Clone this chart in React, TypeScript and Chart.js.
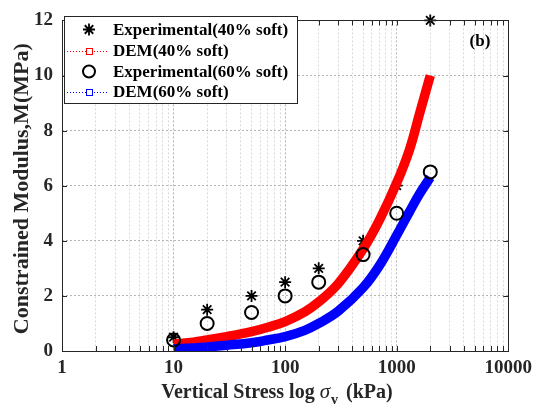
import { useEffect, useRef } from 'react';
import { Chart, registerables } from 'chart.js';

Chart.register(...registerables);

const FONT = "'Liberation Serif', 'Times New Roman', serif";

// ---- data ----
const sigmaExp = [10, 20, 50, 100, 200, 500, 1000, 2000];
const exp40 = [0.5, 1.5, 2.0, 2.5, 3.0, 4.0, 6.0, 12.0];
const exp60 = [0.4, 1.0, 1.4, 2.0, 2.5, 3.5, 5.0, 6.5];

const sigmaDem = [10, 15, 20, 30, 50, 70, 100, 150, 200, 300, 500, 700, 1000, 1300, 1600, 2000];
const dem40 = [0.25, 0.32, 0.4, 0.52, 0.7, 0.86, 1.07, 1.42, 1.78, 2.45, 3.7, 4.75, 6.1, 7.3, 8.6, 10.0];
const dem60 = [0.08, 0.11, 0.15, 0.21, 0.3, 0.4, 0.52, 0.75, 1.0, 1.45, 2.3, 3.1, 4.2, 5.05, 5.7, 6.3];

const xTickLabels = [1, 10, 100, 1000, 10000];
const yTickValues = [0, 2, 4, 6, 8, 10, 12];
const seriesNames = ['Experimental(40% soft)', 'DEM(40% soft)', 'Experimental(60% soft)', 'DEM(60% soft)'];
const panelLabel = '(b)';
const yTitle = 'Constrained Modulus,M(MPa)';
const xTitleParts = ['Vertical Stress log ', '\u03c3', 'v', ' (kPa)'];

const isPow10 = (v: number) => xTickLabels.indexOf(v) >= 0;

function xTickValues(): number[] {
  const out: number[] = [];
  for (let d = 1; d < 10000; d *= 10) for (let m = 1; m < 10; m++) out.push(m * d);
  out.push(10000);
  return out;
}

const pts = (xs: number[], ys: number[]) => xs.map((x, i) => ({ x, y: ys[i] }));

const overlay = {
  id: 'overlay',
  afterDraw(chart: any) {
    const { ctx, chartArea: a, scales } = chart;
    const xs = scales.x;
    const ys = scales.y;
    ctx.save();
    // inward ticks
    ctx.strokeStyle = '#262626';
    ctx.lineWidth = 1;
    ctx.setLineDash([]);
    ctx.beginPath();
    for (const v of xTickValues()) {
      const px = Math.round(xs.getPixelForValue(v)) + 0.5;
      const len = 5;
      ctx.moveTo(px, a.bottom);
      ctx.lineTo(px, a.bottom - len);
      ctx.moveTo(px, a.top);
      ctx.lineTo(px, a.top + len);
    }
    for (const v of yTickValues) {
      const py = Math.round(ys.getPixelForValue(v)) + 0.5;
      ctx.moveTo(a.left, py);
      ctx.lineTo(a.left + 5, py);
      ctx.moveTo(a.right, py);
      ctx.lineTo(a.right - 5, py);
    }
    ctx.stroke();
    ctx.strokeStyle = '#262626';
    ctx.strokeRect(Math.round(a.left) + 0.5, Math.round(a.top) + 0.5, Math.round(a.right - a.left), Math.round(a.bottom - a.top));

    // legend
    const lx = 64, ly = 16, lw = 233, lh = 87;
    ctx.fillStyle = '#ffffff';
    ctx.fillRect(lx, ly, lw, lh);
    ctx.strokeStyle = '#262626';
    ctx.strokeRect(lx + 0.5, ly + 0.5, lw, lh);
    const rows = [29.5, 50.5, 71.5, 92];
    const symX = 89;
    ctx.font = `bold 17px ${FONT}`;
    ctx.textBaseline = 'middle';
    ctx.textAlign = 'left';
    seriesNames.forEach((name, i) => {
      const cy = rows[i];
      ctx.save();
      if (i === 0) {
        ctx.strokeStyle = '#000';
        ctx.lineWidth = 1.8;
        ctx.beginPath();
        const r = 6;
        for (let k = 0; k < 4; k++) {
          const ang = (k * Math.PI) / 4;
          ctx.moveTo(symX - r * Math.cos(ang), cy - r * Math.sin(ang));
          ctx.lineTo(symX + r * Math.cos(ang), cy + r * Math.sin(ang));
        }
        ctx.stroke();
      } else if (i === 2) {
        ctx.strokeStyle = '#000';
        ctx.lineWidth = 2;
        ctx.beginPath();
        ctx.arc(symX, cy, 6, 0, Math.PI * 2);
        ctx.stroke();
      } else {
        const col = i === 1 ? '#ff0000' : '#0000ff';
        ctx.strokeStyle = col;
        ctx.lineWidth = 1;
        ctx.setLineDash([1, 2]);
        ctx.beginPath();
        ctx.moveTo(67, Math.round(cy) + 0.5);
        ctx.lineTo(109, Math.round(cy) + 0.5);
        ctx.stroke();
        ctx.setLineDash([]);
        ctx.fillStyle = '#fff';
        ctx.fillRect(symX - 3, Math.round(cy) - 3, 7, 7);
        ctx.strokeRect(symX - 3 + 0.5, Math.round(cy) - 3 + 0.5, 6, 6);
      }
      ctx.restore();
      ctx.fillStyle = '#000';
      ctx.fillText(name, 113, cy + 1);
    });

    // panel label
    ctx.font = `bold 17px ${FONT}`;
    ctx.textAlign = 'center';
    ctx.fillStyle = '#000';
    ctx.fillText(panelLabel, 480, 42);

    // y title
    ctx.save();
    ctx.translate(22, (a.top + a.bottom) / 2 + 3);
    ctx.rotate(-Math.PI / 2);
    ctx.font = `bold 22px ${FONT}`;
    ctx.textAlign = 'center';
    ctx.textBaseline = 'middle';
    ctx.fillStyle = '#262626';
    ctx.fillText(yTitle, 0, 0);
    ctx.restore();

    // x title with italic sigma and subscript v
    const base = 398;
    const fMain = `bold 20px ${FONT}`;
    const fSig = `italic 21px ${FONT}`;
    const fSub = `bold 14px ${FONT}`;
    ctx.textBaseline = 'alphabetic';
    ctx.textAlign = 'left';
    ctx.font = fMain;
    const w0 = ctx.measureText(xTitleParts[0]).width;
    const w3 = ctx.measureText(xTitleParts[3]).width;
    ctx.font = fSig;
    const w1 = ctx.measureText(xTitleParts[1]).width;
    ctx.font = fSub;
    const w2 = ctx.measureText(xTitleParts[2]).width;
    const total = w0 + w1 + w2 + 4 + w3;
    let cx = 277 - total / 2;
    ctx.fillStyle = '#262626';
    ctx.font = fMain;
    ctx.fillText(xTitleParts[0], cx, base);
    cx += w0;
    ctx.font = fSig;
    ctx.fillText(xTitleParts[1], cx, base);
    cx += w1 + 1;
    ctx.font = fSub;
    ctx.fillText(xTitleParts[2], cx, base + 6);
    cx += w2 + 3;
    ctx.font = fMain;
    ctx.fillText(xTitleParts[3], cx, base);
    ctx.restore();
  },
};

export default function App() {
  const ref = useRef<HTMLCanvasElement | null>(null);
  useEffect(() => {
    if (!ref.current) return;
    const chart = new Chart(ref.current, {
      type: 'scatter',
      data: {
        datasets: [
          {
            label: seriesNames[2],
            data: pts(sigmaExp, exp60),
            showLine: false,
            pointStyle: 'circle',
            pointRadius: 6.5,
            pointBorderWidth: 2,
            borderColor: '#000',
            backgroundColor: 'rgba(0,0,0,0)',
            order: 0,
            clip: false,
          },
          {
            label: seriesNames[3],
            data: pts(sigmaDem, dem60),
            showLine: true,
            pointRadius: 0,
            borderColor: '#0000ff',
            backgroundColor: '#0000ff',
            borderWidth: 9.5,
            tension: 0.4,
            borderCapStyle: 'butt',
            order: 1,
          },
          {
            label: seriesNames[1],
            data: pts(sigmaDem, dem40),
            showLine: true,
            pointRadius: 0,
            borderColor: '#ff0000',
            backgroundColor: '#ff0000',
            borderWidth: 9.5,
            tension: 0.4,
            borderCapStyle: 'butt',
            order: 2,
          },
          {
            label: seriesNames[0],
            data: pts(sigmaExp, exp40),
            showLine: false,
            pointStyle: 'star',
            pointRadius: 6,
            pointBorderWidth: 1.8,
            borderColor: '#000',
            backgroundColor: '#000',
            order: 3,
            clip: false,
          },
        ],
      } as any,
      options: {
        responsive: false,
        devicePixelRatio: 1,
        animation: false,
        layout: { padding: { left: 0, right: 25, top: 13, bottom: 0 } },
        plugins: { legend: { display: false }, tooltip: { enabled: false } },
        scales: {
          x: {
            type: 'logarithmic',
            min: 1,
            max: 10000,
            afterBuildTicks: (s: any) => {
              s.ticks = xTickValues().map((v) => ({ value: v, major: isPow10(v) }));
            },
            afterFit: (s: any) => {
              s.height = 65;
            },
            ticks: {
              autoSkip: false,
              maxRotation: 0,
              padding: 6,
              color: '#262626',
              font: { family: FONT, size: 19, weight: 'bold' },
              callback: (v: any) => (isPow10(Number(v)) ? String(v) : ''),
            },
            grid: {
              drawTicks: false,
              lineWidth: 1,
              color: (c: any) => (c.tick && isPow10(c.tick.value) ? '#b4b4b4' : '#d9d9d9'),
            },
            border: { display: false, dash: [2, 2] },
          },
          y: {
            min: 0,
            max: 12,
            afterBuildTicks: (s: any) => {
              s.ticks = yTickValues.map((v) => ({ value: v }));
            },
            afterFit: (s: any) => {
              s.width = 62;
            },
            ticks: {
              padding: 9,
              color: '#262626',
              font: { family: FONT, size: 19, weight: 'bold' },
            },
            grid: { drawTicks: false, lineWidth: 1, color: '#b4b4b4' },
            border: { display: false, dash: [2, 2] },
          },
        },
      } as any,
      plugins: [overlay],
    });
    return () => chart.destroy();
  }, []);
  return (
    <div style={{ position: 'fixed', left: 0, top: 0, width: 538, height: 416, background: '#fff' }}>
      <canvas ref={ref} width={538} height={416} style={{ display: 'block' }} />
    </div>
  );
}
